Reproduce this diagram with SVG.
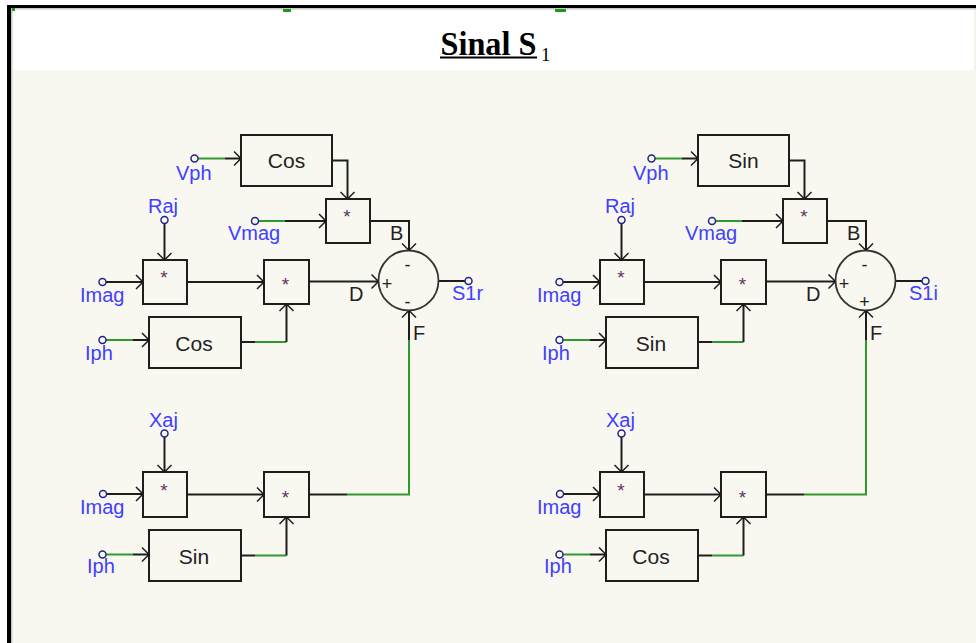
<svg xmlns="http://www.w3.org/2000/svg" width="976" height="643" viewBox="0 0 976 643">
<defs>
<style>
.w{fill:none;stroke:#1e1e1e;stroke-width:2}
.g{fill:none;stroke:#2e9a2e;stroke-width:2}
.box{fill:#f9f8f0;stroke:#1e1e1e;stroke-width:2}
.port{fill:#f9f8f0;stroke:#22228c;stroke-width:1.5}
.lbl{font-family:"Liberation Sans",Arial,sans-serif;font-size:20px;fill:#4040ff}
.bt{font-family:"Liberation Sans",Arial,sans-serif;font-size:21px;fill:#222;text-anchor:middle}
.st{font-family:"Liberation Sans",Arial,sans-serif;font-size:19px;fill:#5c3560;text-anchor:middle}
.sg{font-family:"Liberation Sans",Arial,sans-serif;font-size:18px;fill:#222;text-anchor:middle}
.nl{font-family:"Liberation Sans",Arial,sans-serif;font-size:20px;fill:#222}
.sum{fill:#f9f8f0;stroke:#333;stroke-width:1.8}
</style>
<marker id="ar" markerUnits="userSpaceOnUse" viewBox="-10 -10 12 20" refX="0" refY="0" markerWidth="12" markerHeight="20" orient="auto" overflow="visible">
<path d="M-7,-7 L0,0 L-7,7" fill="none" stroke="#1e1e1e" stroke-width="1.5"/>
<circle r="1.6" fill="#000"/>
</marker>
</defs>

<!-- frame -->
<rect x="0" y="0" width="976" height="643" fill="#ffffff"/>
<rect x="11" y="70" width="965" height="573" fill="#f9f8f0"/>
<rect x="974" y="9" width="2" height="61" fill="#f4f3ea"/>
<rect x="7" y="8" width="969" height="1.5" fill="#c8c8c0"/>
<rect x="11" y="8" width="1.5" height="635" fill="#c8c8c0"/>
<rect x="7" y="5" width="969" height="3" fill="#000"/>
<rect x="7" y="5" width="4" height="638" fill="#000"/>
<rect x="12" y="8" width="3" height="3" fill="#1a9a1a"/>
<rect x="283" y="9" width="8" height="3" fill="#1a9a1a"/>
<rect x="555" y="9" width="11" height="3" fill="#1a9a1a"/>

<g id="title">
<text x="440.5" y="55" font-family="'Liberation Serif','Times New Roman',serif" font-weight="bold" font-size="34" textLength="96" lengthAdjust="spacingAndGlyphs" fill="#000">Sinal S</text>
<text x="541" y="61" font-family="'Liberation Serif','Times New Roman',serif" font-size="19" fill="#000">1</text>
<rect x="440" y="56.5" width="97" height="2" fill="#000"/>
</g>

<!-- LEFT CIRCUIT -->
<g id="left">
<g id="connectors-left">
<path class="g" d="M198,158.5H225"/>
<path class="w" d="M225,158.5H241" marker-end="url(#ar)"/>
<path class="w" d="M332,160.5H347.5V199" marker-end="url(#ar)"/>
<path class="g" d="M258.5,221H285"/>
<path class="w" d="M285,221H326" marker-end="url(#ar)"/>
<path class="w" d="M370,221H409V250.5" marker-end="url(#ar)"/>
<path class="w" d="M164.5,223.5V260" marker-end="url(#ar)"/>
<path class="w" d="M106,282H143" marker-end="url(#ar)"/>
<path class="w" d="M187,282H264" marker-end="url(#ar)"/>
<path class="g" d="M106,340H133"/>
<path class="w" d="M133,340H149" marker-end="url(#ar)"/>
<path class="w" d="M241,342H255"/>
<path class="g" d="M255,342H286.5"/>
<path class="w" d="M286.5,342V304" marker-end="url(#ar)"/>
<path class="w" d="M309,281.5H378.5" marker-end="url(#ar)"/>
<path class="w" d="M438.5,281H465"/>
<path class="w" d="M164.5,437V472" marker-end="url(#ar)"/>
<path class="w" d="M106.5,494H143" marker-end="url(#ar)"/>
<path class="w" d="M187,494.5H264" marker-end="url(#ar)"/>
<path class="g" d="M106,554.5H133"/>
<path class="w" d="M133,554.5H149" marker-end="url(#ar)"/>
<path class="w" d="M241,555.5H255"/>
<path class="g" d="M255,555.5H286.5"/>
<path class="w" d="M286.5,555.5V517" marker-end="url(#ar)"/>
<path class="w" d="M309,494.5H347"/>
<path class="g" d="M347,494.5H409V340"/>
<path class="w" d="M409,340V310.5" marker-end="url(#ar)"/>
</g>
<g id="L-vph"><circle class="port" cx="194.5" cy="158.5" r="3.5"/><text class="lbl" x="176" y="180">Vph</text></g>
<g id="L-cos1"><rect class="box" x="241" y="135" width="91" height="51"/><text class="bt" x="286.5" y="168">Cos</text></g>
<g id="L-vmag"><circle class="port" cx="255" cy="221" r="3.5"/><text class="lbl" x="228" y="240">Vmag</text></g>
<g id="L-mult2"><rect class="box" x="326" y="199" width="44" height="44"/><text class="st" x="347" y="223">*</text></g>
<g id="L-raj"><circle class="port" cx="164.5" cy="220" r="3.5"/><text class="lbl" x="148" y="213">Raj</text></g>
<g id="L-imag1"><circle class="port" cx="102.5" cy="282" r="3.5"/><text class="lbl" x="80" y="302">Imag</text></g>
<g id="L-mult1"><rect class="box" x="143" y="260" width="44" height="44"/><text class="st" x="164" y="284">*</text></g>
<g id="L-mult4"><rect class="box" x="264" y="260" width="45" height="44"/><text class="st" x="285.5" y="291">*</text></g>
<g id="L-iph1"><circle class="port" cx="102.5" cy="340" r="3.5"/><text class="lbl" x="85" y="360">Iph</text></g>
<g id="L-cos2"><rect class="box" x="149" y="317" width="92" height="51"/><text class="bt" x="194" y="350.5">Cos</text></g>
<g id="L-sum"><circle class="sum" cx="408.5" cy="280.5" r="30"/>
<text class="sg" x="407.5" y="271">-</text><text class="sg" x="387" y="290">+</text><text class="sg" x="407.5" y="308">-</text>
<text class="nl" x="390" y="240">B</text><text class="nl" x="349" y="301">D</text><text class="nl" x="413" y="340">F</text></g>
<g id="L-s1r"><circle class="port" cx="468.5" cy="281" r="3.5"/><text class="lbl" x="452" y="300">S1r</text></g>
<g id="L-xaj"><circle class="port" cx="164.5" cy="433.5" r="3.5"/><text class="lbl" x="149" y="427">Xaj</text></g>
<g id="L-imag2"><circle class="port" cx="103" cy="494" r="3.5"/><text class="lbl" x="80" y="514">Imag</text></g>
<g id="L-mult5"><rect class="box" x="143" y="472" width="44" height="45"/><text class="st" x="164" y="497">*</text></g>
<g id="L-mult6"><rect class="box" x="264" y="472" width="45" height="45"/><text class="st" x="285.5" y="504">*</text></g>
<g id="L-iph2"><circle class="port" cx="102.5" cy="554.5" r="3.5"/><text class="lbl" x="87" y="573">Iph</text></g>
<g id="L-sin"><rect class="box" x="149" y="530" width="92" height="51"/><text class="bt" x="194" y="563.5">Sin</text></g>
</g>

<!-- RIGHT CIRCUIT -->
<g id="right" transform="translate(457,0)">
<g id="connectors-right">
<path class="g" d="M198,158.5H225"/>
<path class="w" d="M225,158.5H241" marker-end="url(#ar)"/>
<path class="w" d="M332,160.5H347.5V199" marker-end="url(#ar)"/>
<path class="g" d="M258.5,221H285"/>
<path class="w" d="M285,221H326" marker-end="url(#ar)"/>
<path class="w" d="M370,221H409V250.5" marker-end="url(#ar)"/>
<path class="w" d="M164.5,223.5V260" marker-end="url(#ar)"/>
<path class="w" d="M106,282H143" marker-end="url(#ar)"/>
<path class="w" d="M187,282H264" marker-end="url(#ar)"/>
<path class="g" d="M106,340H133"/>
<path class="w" d="M133,340H149" marker-end="url(#ar)"/>
<path class="w" d="M241,342H255"/>
<path class="g" d="M255,342H286.5"/>
<path class="w" d="M286.5,342V304" marker-end="url(#ar)"/>
<path class="w" d="M309,281.5H378.5" marker-end="url(#ar)"/>
<path class="w" d="M438.5,281H465"/>
<path class="w" d="M164.5,437V472" marker-end="url(#ar)"/>
<path class="w" d="M106.5,494H143" marker-end="url(#ar)"/>
<path class="w" d="M187,494.5H264" marker-end="url(#ar)"/>
<path class="g" d="M106,554.5H133"/>
<path class="w" d="M133,554.5H149" marker-end="url(#ar)"/>
<path class="w" d="M241,555.5H255"/>
<path class="g" d="M255,555.5H286.5"/>
<path class="w" d="M286.5,555.5V517" marker-end="url(#ar)"/>
<path class="w" d="M309,494.5H347"/>
<path class="g" d="M347,494.5H409V340"/>
<path class="w" d="M409,340V310.5" marker-end="url(#ar)"/>
</g>
<g id="R-vph"><circle class="port" cx="194.5" cy="158.5" r="3.5"/><text class="lbl" x="176" y="180">Vph</text></g>
<g id="R-sin1"><rect class="box" x="241" y="135" width="91" height="51"/><text class="bt" x="286.5" y="168">Sin</text></g>
<g id="R-vmag"><circle class="port" cx="255" cy="221" r="3.5"/><text class="lbl" x="228" y="240">Vmag</text></g>
<g id="R-mult2"><rect class="box" x="326" y="199" width="44" height="44"/><text class="st" x="347" y="223">*</text></g>
<g id="R-raj"><circle class="port" cx="164.5" cy="220" r="3.5"/><text class="lbl" x="148" y="213">Raj</text></g>
<g id="R-imag1"><circle class="port" cx="102.5" cy="282" r="3.5"/><text class="lbl" x="80" y="302">Imag</text></g>
<g id="R-mult1"><rect class="box" x="143" y="260" width="44" height="44"/><text class="st" x="164" y="284">*</text></g>
<g id="R-mult4"><rect class="box" x="264" y="260" width="45" height="44"/><text class="st" x="285.5" y="291">*</text></g>
<g id="R-iph1"><circle class="port" cx="102.5" cy="340" r="3.5"/><text class="lbl" x="85" y="360">Iph</text></g>
<g id="R-sin2"><rect class="box" x="149" y="317" width="92" height="51"/><text class="bt" x="194" y="350.5">Sin</text></g>
<g id="R-sum"><circle class="sum" cx="408.5" cy="280.5" r="30"/>
<text class="sg" x="407.5" y="271">-</text><text class="sg" x="387" y="290">+</text><text class="sg" x="407.5" y="308">+</text>
<text class="nl" x="390" y="240">B</text><text class="nl" x="349" y="301">D</text><text class="nl" x="413" y="340">F</text></g>
<g id="R-s1i"><circle class="port" cx="468.5" cy="281" r="3.5"/><text class="lbl" x="452" y="300">S1i</text></g>
<g id="R-xaj"><circle class="port" cx="164.5" cy="433.5" r="3.5"/><text class="lbl" x="149" y="427">Xaj</text></g>
<g id="R-imag2"><circle class="port" cx="103" cy="494" r="3.5"/><text class="lbl" x="80" y="514">Imag</text></g>
<g id="R-mult5"><rect class="box" x="143" y="472" width="44" height="45"/><text class="st" x="164" y="497">*</text></g>
<g id="R-mult6"><rect class="box" x="264" y="472" width="45" height="45"/><text class="st" x="285.5" y="504">*</text></g>
<g id="R-iph2"><circle class="port" cx="102.5" cy="554.5" r="3.5"/><text class="lbl" x="87" y="573">Iph</text></g>
<g id="R-cos"><rect class="box" x="149" y="530" width="92" height="51"/><text class="bt" x="194" y="563.5">Cos</text></g>
</g>
</svg>
